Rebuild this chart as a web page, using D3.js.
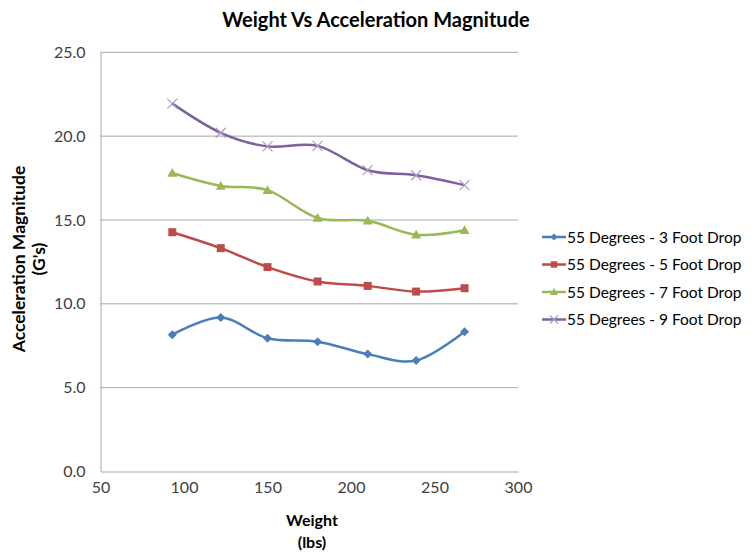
<!DOCTYPE html>
<html>
<head>
<meta charset="utf-8">
<script src="https://cdn.jsdelivr.net/npm/d3@7"></script>
<style>
  html, body { margin: 0; padding: 0; background: #fff; }
  svg { display: block; font-family: Lato, "Open Sans", sans-serif; }
</style>
</head>
<body>
<svg id="chart" width="751" height="554"></svg>
<script>
// Test weights (lbs)
const weights = [93, 122, 150, 180, 210, 239, 268];

// Acceleration magnitude (G's) per drop height
const drop3ft = [8.16, 9.19, 7.95, 7.74, 7.00, 6.62, 8.34];
const drop5ft = [14.27, 13.32, 12.19, 11.33, 11.07, 10.73, 10.93];
const drop7ft = [17.80, 17.03, 16.78, 15.12, 14.95, 14.12, 14.39];
const drop9ft = [21.94, 20.20, 19.39, 19.42, 17.97, 17.67, 17.08];

const seriesNames = [
  "55 Degrees - 3 Foot Drop",
  "55 Degrees - 5 Foot Drop",
  "55 Degrees - 7 Foot Drop",
  "55 Degrees - 9 Foot Drop"
];
const xTicks = [50, 100, 150, 200, 250, 300];
const yTicks = [0, 5, 10, 15, 20, 25];

const colors = ["#4A7EBB", "#BE4B48", "#98B954", "#7D60A0"];
const markers = ["diamond", "square", "triangle", "cross"];
const seriesValues = [drop3ft, drop5ft, drop7ft, drop9ft];

const series = seriesNames.map((name, i) => ({
  name,
  color: colors[i],
  marker: markers[i],
  points: weights.map((w, j) => ({ x: w, y: seriesValues[i][j] }))
}));

const svg = d3.select("#chart");
const plot = { left: 100.5, right: 518, top: 52.3, bottom: 471.5 };

const x = d3.scaleLinear().domain([50, 300]).range([plot.left, plot.right]);
const y = d3.scaleLinear().domain([0, 25]).range([plot.bottom, plot.top]);

// Horizontal gridlines
svg.append("g")
  .selectAll("line")
  .data(yTicks.filter(t => t > 0))
  .join("line")
  .attr("x1", plot.left).attr("x2", plot.right)
  .attr("y1", d => y(d)).attr("y2", d => y(d))
  .attr("stroke", "#A6A6A6").attr("stroke-width", 1);

// Axes
const xAxis = svg.append("g")
  .attr("transform", `translate(0,${plot.bottom})`)
  .call(d3.axisBottom(x).tickValues(xTicks).tickSize(0).tickPadding(10).tickFormat(d3.format("d")));
const yAxis = svg.append("g")
  .attr("transform", `translate(${plot.left},0)`)
  .call(d3.axisLeft(y).tickValues(yTicks).tickSize(0).tickPadding(15).tickFormat(d3.format(".1f")));

[xAxis, yAxis].forEach(a => {
  a.select(".domain").attr("stroke", "#A6A6A6").attr("stroke-width", 1);
  a.selectAll("text").attr("fill", "#404040").style("font-size", "16px")
    .style("font-family", "Lato, 'Open Sans', sans-serif");
});

// Title
svg.append("text")
  .attr("x", 376).attr("y", 27)
  .attr("text-anchor", "middle")
  .style("font-size", "20px").style("font-weight", "bold")
  .attr("fill", "#000")
  .text("Weight Vs Acceleration Magnitude");

// Axis titles
const xt = svg.append("text")
  .attr("text-anchor", "middle")
  .style("font-size", "16px").style("font-weight", "bold").attr("fill", "#000");
xt.append("tspan").attr("x", 312).attr("y", 526).text("Weight");
xt.append("tspan").attr("x", 312).attr("y", 548).text("(lbs)");

const yt = svg.append("text")
  .attr("text-anchor", "middle")
  .attr("transform", "translate(0,259) rotate(-90)")
  .style("font-size", "17.5px").style("font-weight", "bold").attr("fill", "#000");
yt.append("tspan").attr("x", 0).attr("y", 25).text("Acceleration Magnitude");
yt.append("tspan").attr("x", 0).attr("y", 45).text("(G's)");

// Smoothed series lines
const line = d3.line()
  .x(d => x(d.x)).y(d => y(d.y))
  .curve(d3.curveCatmullRom.alpha(0));

function drawMarker(g, type, color, size) {
  const s = size;
  if (type === "diamond") {
    g.append("path").attr("d", `M0,${-s}L${s},0L0,${s}L${-s},0Z`).attr("fill", color);
  } else if (type === "square") {
    g.append("rect").attr("x", -s * 0.8).attr("y", -s * 0.8)
      .attr("width", s * 1.6).attr("height", s * 1.6).attr("fill", color);
  } else if (type === "triangle") {
    g.append("path").attr("d", `M0,${-s}L${s},${s * 0.75}L${-s},${s * 0.75}Z`).attr("fill", color);
  } else if (type === "cross") {
    g.append("path").attr("d", `M${-s},${-s}L${s},${s}M${-s},${s}L${s},${-s}`)
      .attr("stroke", "#A99BC4").attr("stroke-width", 1.2).attr("fill", "none");
  }
}

series.forEach(s => {
  const g = svg.append("g");
  g.append("path")
    .datum(s.points)
    .attr("d", line)
    .attr("fill", "none")
    .attr("stroke", s.color)
    .attr("stroke-width", 2.5);
  s.points.forEach(p => {
    const m = g.append("g").attr("transform", `translate(${x(p.x)},${y(p.y)})`);
    drawMarker(m, s.marker, s.color, s.marker === "diamond" ? 4.5 : 5);
  });
});

// Legend
const legend = svg.append("g").attr("transform", "translate(542,237)");
series.forEach((s, i) => {
  const row = legend.append("g").attr("transform", `translate(0,${i * 27.5})`);
  row.append("line").attr("x1", 0).attr("x2", 24).attr("y1", 0).attr("y2", 0)
    .attr("stroke", s.color).attr("stroke-width", 2.5);
  const m = row.append("g").attr("transform", "translate(12,0)");
  drawMarker(m, s.marker, s.color, s.marker === "diamond" ? 3.5 : 4);
  row.append("text").attr("x", 25).attr("y", 5.5)
    .style("font-size", "15.5px").attr("fill", "#000")
    .text(s.name);
});
</script>
</body>
</html>
